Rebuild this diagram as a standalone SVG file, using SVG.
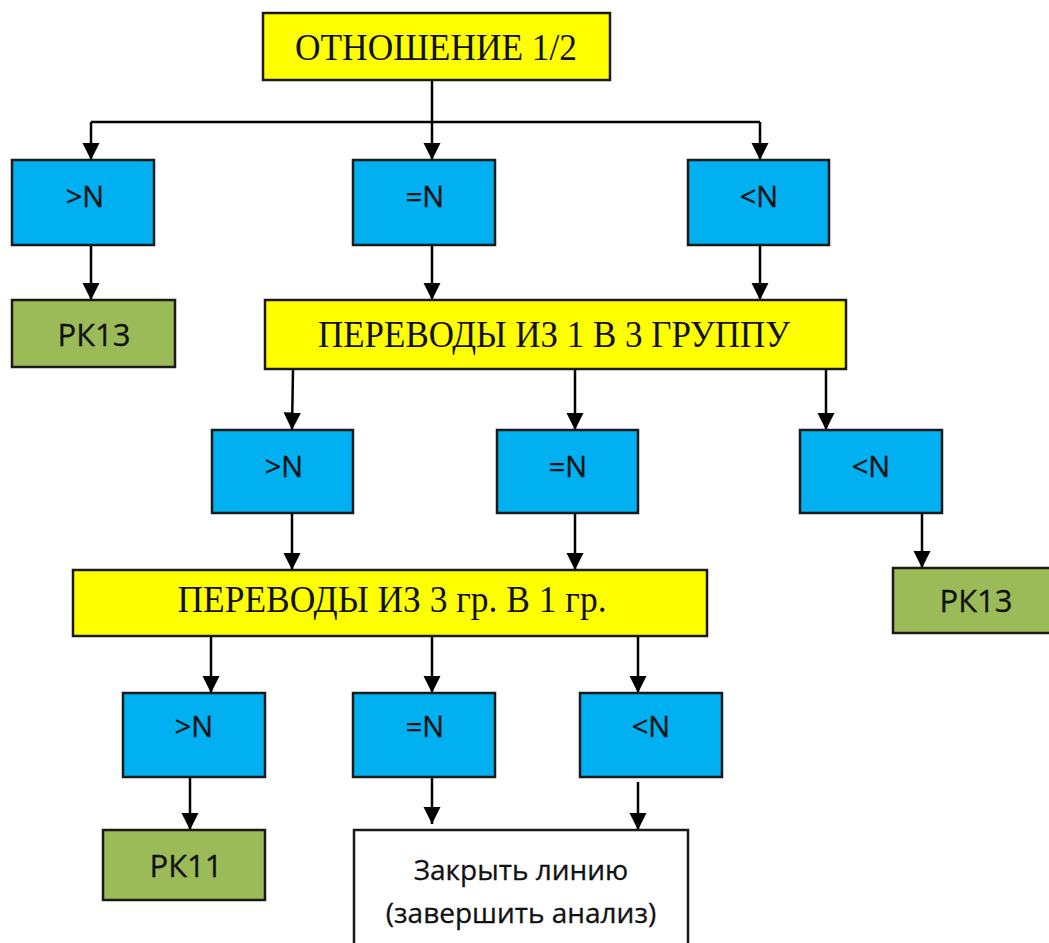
<svg xmlns="http://www.w3.org/2000/svg" width="1049" height="943" viewBox="0 0 1049 943">
  <style>
    .box { stroke: #1a1a1a; stroke-width: 2.5; }
    .yellow { fill: #FFFF00; }
    .blue { fill: #00B0F0; }
    .green { fill: #9BBB59; }
    .white { fill: #FFFFFF; }
    .serif { font-family: "Liberation Serif", "Times New Roman", serif; font-size: 37px; fill: #111; text-anchor: middle; }
    .sans { font-family: "Open Sans", "Noto Sans", sans-serif; fill: #111; text-anchor: middle; stroke: #111; stroke-width: 0.3; }
    .cond { font-size: 29px; }
    .term { font-size: 31px; }
    .note { font-size: 28px; }
    .link { fill: none; stroke: #000; stroke-width: 2.5; }
  </style>
  <defs>
    <marker id="arrow" viewBox="0 0 10 10" refX="10" refY="5" markerWidth="7" markerHeight="7.5" markerUnits="strokeWidth" orient="auto">
      <path d="M0,0 L10,5 L0,10 Z" fill="#000"/>
    </marker>
  </defs>

  <rect width="1049" height="943" fill="#FFFFFF"/>

  <!-- connectors -->
  <g id="connectors">
    <path class="link" d="M432,80 V122"/>
    <path class="link" d="M91,122 H760"/>
    <path class="link" d="M91,122 V160" marker-end="url(#arrow)"/>
    <path class="link" d="M432,122 V160" marker-end="url(#arrow)"/>
    <path class="link" d="M760,122 V160" marker-end="url(#arrow)"/>

    <path class="link" d="M91,245 V300" marker-end="url(#arrow)"/>
    <path class="link" d="M432,245 V300" marker-end="url(#arrow)"/>
    <path class="link" d="M760,245 V300" marker-end="url(#arrow)"/>

    <path class="link" d="M293,369 L292,430" marker-end="url(#arrow)"/>
    <path class="link" d="M575,369 V430" marker-end="url(#arrow)"/>
    <path class="link" d="M826,369 V430" marker-end="url(#arrow)"/>

    <path class="link" d="M292,513 V570" marker-end="url(#arrow)"/>
    <path class="link" d="M575,513 V570" marker-end="url(#arrow)"/>
    <path class="link" d="M922,513 V568" marker-end="url(#arrow)"/>

    <path class="link" d="M211,636 V693" marker-end="url(#arrow)"/>
    <path class="link" d="M432,636 V693" marker-end="url(#arrow)"/>
    <path class="link" d="M638,636 V693" marker-end="url(#arrow)"/>

    <path class="link" d="M190,777 V830" marker-end="url(#arrow)"/>
    <path class="link" d="M432,777 V824" marker-end="url(#arrow)"/>
    <path class="link" d="M638,782 V830" marker-end="url(#arrow)"/>
  </g>

  <!-- level 0 -->
  <g id="ratio">
    <rect class="box yellow" x="263" y="13" width="347" height="67"/>
    <text class="serif" x="436" y="60" textLength="282" lengthAdjust="spacingAndGlyphs">ОТНОШЕНИЕ 1/2</text>
  </g>

  <!-- level 1 -->
  <g id="r1-gt">
    <rect class="box blue" x="12" y="160" width="142" height="85"/>
    <text class="sans cond" x="85" y="207">&gt;N</text>
  </g>
  <g id="r1-eq">
    <rect class="box blue" x="353" y="160" width="142" height="85"/>
    <text class="sans cond" x="425" y="207">=N</text>
  </g>
  <g id="r1-lt">
    <rect class="box blue" x="688" y="160" width="141" height="85"/>
    <text class="sans cond" x="759" y="207">&lt;N</text>
  </g>
  <g id="rk13-a">
    <rect class="box green" x="12" y="300" width="163" height="67"/>
    <text class="sans term" x="94" y="346">РК13</text>
  </g>

  <!-- level 2 -->
  <g id="transfers-1-3">
    <rect class="box yellow" x="265" y="300" width="581" height="69"/>
    <text class="serif" x="554" y="347" textLength="472" lengthAdjust="spacingAndGlyphs">ПЕРЕВОДЫ ИЗ 1 В 3 ГРУППУ</text>
  </g>
  <g id="r2-gt">
    <rect class="box blue" x="212" y="430" width="141" height="83"/>
    <text class="sans cond" x="284" y="477">&gt;N</text>
  </g>
  <g id="r2-eq">
    <rect class="box blue" x="497" y="430" width="141" height="83"/>
    <text class="sans cond" x="568" y="477">=N</text>
  </g>
  <g id="r2-lt">
    <rect class="box blue" x="800" y="430" width="142" height="83"/>
    <text class="sans cond" x="871" y="477">&lt;N</text>
  </g>
  <g id="rk13-b">
    <rect class="box green" x="893" y="568" width="158" height="65"/>
    <text class="sans term" x="976" y="612">РК13</text>
  </g>

  <!-- level 3 -->
  <g id="transfers-3-1">
    <rect class="box yellow" x="73" y="570" width="634" height="66"/>
    <text class="serif" x="392" y="612" textLength="429" lengthAdjust="spacingAndGlyphs">ПЕРЕВОДЫ ИЗ 3 гр. В 1 гр.</text>
  </g>
  <g id="r3-gt">
    <rect class="box blue" x="123" y="693" width="142" height="84"/>
    <text class="sans cond" x="194" y="737">&gt;N</text>
  </g>
  <g id="r3-eq">
    <rect class="box blue" x="353" y="693" width="142" height="84"/>
    <text class="sans cond" x="425" y="737">=N</text>
  </g>
  <g id="r3-lt">
    <rect class="box blue" x="580" y="693" width="142" height="84"/>
    <text class="sans cond" x="651" y="737">&lt;N</text>
  </g>
  <g id="rk11">
    <rect class="box green" x="103" y="830" width="162" height="70"/>
    <text class="sans term" x="186" y="877">РК11</text>
  </g>
  <g id="close-line">
    <rect class="box white" x="354" y="830" width="334" height="120"/>
    <text class="sans note" x="521" y="880">Закрыть линию</text>
    <text class="sans note" x="521" y="923">(завершить анализ)</text>
  </g>
</svg>
